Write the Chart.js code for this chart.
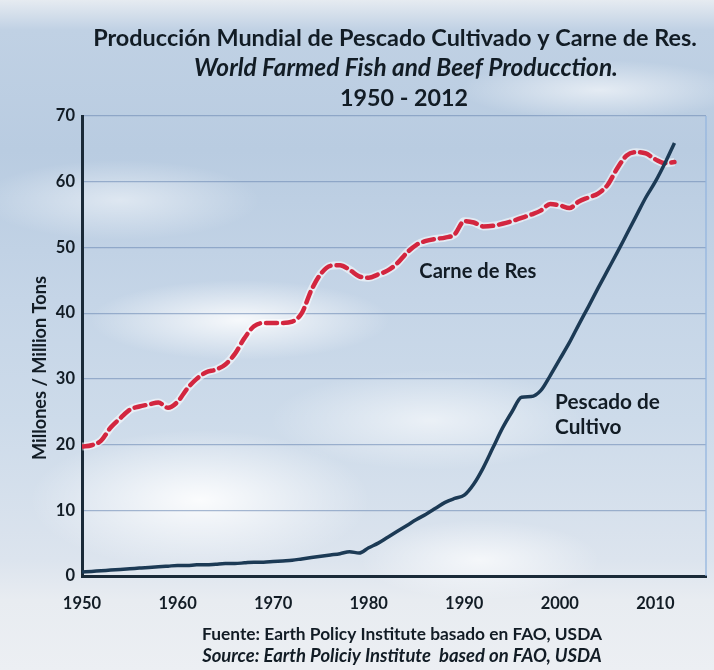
<!DOCTYPE html>
<html>
<head>
<meta charset="utf-8">
<title>World Farmed Fish and Beef Production</title>
<script src="https://cdn.jsdelivr.net/npm/chart.js@4.4.0/dist/chart.umd.min.js"></script>
<style>
    html, body { margin: 0; padding: 0; }
    body {
        width: 714px;
        height: 670px;
        overflow: hidden;
        background:
            radial-gradient(ellipse 170px 70px at 200px 500px, rgba(255,255,255,0.9), rgba(255,255,255,0) 100%),
            radial-gradient(ellipse 150px 40px at 240px 320px, rgba(255,255,255,0.85), rgba(255,255,255,0) 100%),
            radial-gradient(ellipse 120px 40px at 480px 560px, rgba(255,255,255,0.7), rgba(255,255,255,0) 100%),
            radial-gradient(ellipse 160px 50px at 430px 420px, rgba(255,255,255,0.6), rgba(255,255,255,0) 100%),
            radial-gradient(ellipse 140px 30px at 600px 90px, rgba(255,255,255,0.6), rgba(255,255,255,0) 100%),
            radial-gradient(ellipse 140px 40px at 120px 200px, rgba(255,255,255,0.5), rgba(255,255,255,0) 100%),
            linear-gradient(180deg, #e6ebf1 0px, #c0d1e4 30px, #b9cce1 150px, #c5d5e7 300px, #cddbea 420px, #dce4ee 560px, #e8ecf1 600px, #eceff3 670px);
    }
    #wrap { position: relative; width: 714px; height: 670px; }
</style>
</head>
<body>
<div id="wrap"><canvas id="fishBeefChart" width="714" height="670"></canvas></div>

<script>
const years = [1950, 1951, 1952, 1953, 1954, 1955, 1956, 1957, 1958, 1959,
               1960, 1961, 1962, 1963, 1964, 1965, 1966, 1967, 1968, 1969,
               1970, 1971, 1972, 1973, 1974, 1975, 1976, 1977, 1978, 1979,
               1980, 1981, 1982, 1983, 1984, 1985, 1986, 1987, 1988, 1989,
               1990, 1991, 1992, 1993, 1994, 1995, 1996, 1997, 1998, 1999,
               2000, 2001, 2002, 2003, 2004, 2005, 2006, 2007, 2008, 2009,
               2010, 2011, 2012];

const beef = [19.7, 19.9, 20.6, 22.6, 24.0, 25.3, 25.8, 26.1, 26.4, 25.6,
              26.5, 28.5, 30.0, 31.0, 31.4, 32.2, 33.8, 36.2, 38.0, 38.5,
              38.5, 38.5, 38.7, 40.0, 43.5, 46.0, 47.2, 47.3, 46.6, 45.6,
              45.4, 45.9, 46.5, 47.6, 49.2, 50.4, 51.0, 51.3, 51.5, 52.0,
              54.0, 53.8, 53.2, 53.3, 53.6, 54.0, 54.5, 55.0, 55.6, 56.6,
              56.4, 56.0, 57.0, 57.6, 58.2, 59.5, 62.0, 64.0, 64.5, 64.3,
              63.4, 62.8, 63.0];

const fish = [0.6, 0.7, 0.8, 0.9, 1.0, 1.1, 1.2, 1.3, 1.4, 1.5,
              1.6, 1.6, 1.7, 1.7, 1.8, 1.9, 1.9, 2.0, 2.1, 2.1,
              2.2, 2.3, 2.4, 2.6, 2.8, 3.0, 3.2, 3.4, 3.7, 3.5,
              4.3, 5.0, 5.9, 6.8, 7.7, 8.6, 9.4, 10.3, 11.2, 11.8,
              12.3, 14.0, 16.5, 19.5, 22.5, 25.0, 27.2, 27.3, 28.2, 30.5,
              33.0, 35.5, 38.3, 41.0, 43.8, 46.5, 49.2, 52.0, 54.8, 57.6,
              60.0, 62.8, 65.9];

const xTicks = [1950, 1960, 1970, 1980, 1990, 2000, 2010];
const yTicks = [0, 10, 20, 30, 40, 50, 60, 70];

const titleLines = [
    'Producción Mundial de Pescado Cultivado y Carne de Res.',
    'World Farmed Fish and Beef Producction.',
    '1950 - 2012'
];
const sourceLines = [
    'Fuente: Earth Policy Institute basado en FAO, USDA',
    'Source: Earth Policiy Institute  based on FAO, USDA'
];
const yTitle = 'Millones / Million Tons';
const beefLabel = 'Carne de Res';
const fishLabel = ['Pescado de', 'Cultivo'];

const INK = '#121c25';
const FONT = 'Lato, "Open Sans", sans-serif';

// shrink/grow a font so a line fills a given width
function fitText(ctx, text, style, target) {
    ctx.font = style + ' 20px ' + FONT;
    const w = ctx.measureText(text).width;
    return style + ' ' + (20 * target / w).toFixed(2) + 'px ' + FONT;
}

function toPoints(values) {
    return years.map(function(yr, i) { return { x: yr, y: values[i] }; });
}

// Titles, source lines, axis title, in-chart labels and right frame line
const decorPlugin = {
    id: 'decor',
    afterDraw(chart) {
        const ctx = chart.ctx;
        const area = chart.chartArea;
        const xs = chart.scales.x;
        const ys = chart.scales.y;
        ctx.save();

        ctx.strokeStyle = 'rgba(150,182,222,0.9)';
        ctx.lineWidth = 1.5;
        ctx.beginPath();
        ctx.moveTo(area.right, area.top);
        ctx.lineTo(area.right, area.bottom);
        ctx.stroke();

        ctx.fillStyle = INK;
        ctx.textAlign = 'center';
        ctx.textBaseline = 'middle';

        ctx.font = fitText(ctx, titleLines[0], 'bold', 604);
        ctx.fillText(titleLines[0], 395, 38);
        ctx.font = fitText(ctx, titleLines[1], 'italic bold', 424);
        ctx.fillText(titleLines[1], 406, 68);
        ctx.font = fitText(ctx, titleLines[2], 'bold', 128);
        ctx.fillText(titleLines[2], 404, 98);

        ctx.font = fitText(ctx, sourceLines[0], 'bold', 400);
        ctx.fillText(sourceLines[0], 402, 634);
        ctx.font = fitText(ctx, sourceLines[1], 'italic bold', 400);
        ctx.fillText(sourceLines[1], 402, 656);

        // rotated axis title
        ctx.save();
        ctx.translate(40, 368);
        ctx.rotate(-Math.PI / 2);
        ctx.font = fitText(ctx, yTitle, 'bold', 184);
        ctx.fillText(yTitle, 0, 0);
        ctx.restore();

        ctx.textAlign = 'left';
        ctx.font = fitText(ctx, beefLabel, 'bold', 117);
        ctx.fillText(beefLabel, xs.getPixelForValue(1985.3), ys.getPixelForValue(46.4));
        ctx.font = fitText(ctx, fishLabel[0], 'bold', 105);
        ctx.fillText(fishLabel[0], xs.getPixelForValue(1999.5), ys.getPixelForValue(26.5));
        ctx.fillText(fishLabel[1], xs.getPixelForValue(1999.5), ys.getPixelForValue(22.7));

        ctx.restore();
    }
};

function initializeChart() {
    const ctx = document.getElementById('fishBeefChart');

    new Chart(ctx, {
        type: 'line',
        data: {
            datasets: [{
                label: 'Pescado de Cultivo',
                data: toPoints(fish),
                borderColor: '#1c3a55',
                borderWidth: 3.5,
                cubicInterpolationMode: 'monotone',
                pointRadius: 0,
                fill: false,
                order: 1
            },
            {
                label: 'Carne de Res',
                data: toPoints(beef),
                borderColor: '#d3263f',
                borderWidth: 4.5,
                borderDash: [11, 6],
                borderCapStyle: 'round',
                cubicInterpolationMode: 'monotone',
                pointRadius: 0,
                fill: false,
                order: 2
            },
            {
                // soft light halo under the dashed beef line
                label: 'halo',
                data: toPoints(beef),
                borderColor: 'rgba(255,255,255,0.55)',
                borderWidth: 8,
                cubicInterpolationMode: 'monotone',
                pointRadius: 0,
                fill: false,
                order: 3
            }]
        },
        options: {
            responsive: false,
            animation: false,
            events: [],
            layout: {
                padding: { top: 116, right: 8, bottom: 0, left: 0 }
            },
            scales: {
                x: {
                    type: 'linear',
                    min: 1950,
                    max: 2015.3,
                    afterBuildTicks: function(scale) {
                        scale.ticks = xTicks.map(function(v) { return { value: v }; });
                    },
                    afterFit: function(scale) { scale.height = 94; },
                    grid: { color: 'rgba(0,0,0,0)', drawTicks: false },
                    border: { color: '#1a2a38', width: 3 },
                    ticks: {
                        padding: 18,
                        maxRotation: 0,
                        color: INK,
                        font: { family: FONT, size: 16.5, weight: 'bold' },
                        callback: function(v) { return String(v); }
                    }
                },
                y: {
                    min: 0,
                    max: 70,
                    afterBuildTicks: function(scale) {
                        scale.ticks = yTicks.map(function(v) { return { value: v }; });
                    },
                    afterFit: function(scale) { scale.width = 82; },
                    grid: {
                        drawTicks: false,
                        lineWidth: 1.2,
                        color: function(c) {
                            return c.tick && c.tick.value === 0 ? 'rgba(0,0,0,0)' : 'rgba(112,140,182,0.6)';
                        }
                    },
                    border: { color: '#1a2a38', width: 3 },
                    ticks: {
                        padding: 7,
                        color: INK,
                        font: { family: FONT, size: 16.5, weight: 'bold' }
                    }
                }
            },
            plugins: {
                legend: { display: false },
                tooltip: { enabled: false }
            }
        },
        plugins: [decorPlugin]
    });
}

document.addEventListener('DOMContentLoaded', function() {
    initializeChart();
});
</script>
</body>
</html>
